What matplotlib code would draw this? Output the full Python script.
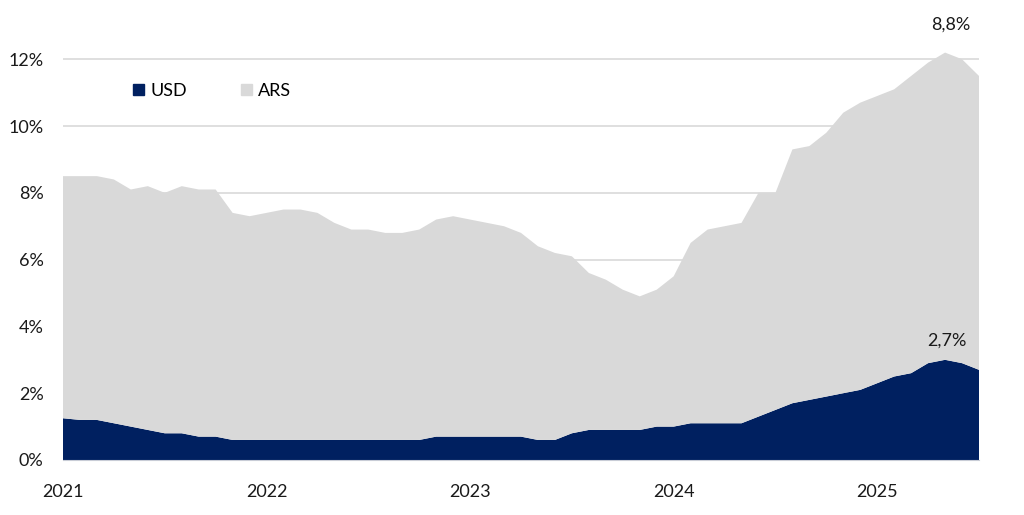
import numpy as np
import matplotlib
matplotlib.use("Agg")
import matplotlib.pyplot as plt
from matplotlib.patches import Patch

plt.rcParams['font.family'] = ['Lato', 'DejaVu Sans']

# monthly, Jan 2021 .. Jul 2025 (% of total)
years = ['2021', '2022', '2023', '2024', '2025']
usd = [1.25, 1.2, 1.2, 1.1, 1.0, 0.9, 0.8, 0.8, 0.7, 0.7,
       0.6, 0.6, 0.6, 0.6, 0.6, 0.6, 0.6, 0.6, 0.6, 0.6,
       0.6, 0.6, 0.7, 0.7, 0.7, 0.7, 0.7, 0.7, 0.6, 0.6,
       0.8, 0.9, 0.9, 0.9, 0.9, 1.0, 1.0, 1.1, 1.1, 1.1,
       1.1, 1.3, 1.5, 1.7, 1.8, 1.9, 2.0, 2.1, 2.3, 2.5,
       2.6, 2.9, 3.0, 2.9, 2.7]
ars = [7.25, 7.3, 7.3, 7.3, 7.1, 7.3, 7.2, 7.4, 7.4, 7.4,
       6.8, 6.7, 6.8, 6.9, 6.9, 6.8, 6.5, 6.3, 6.3, 6.2,
       6.2, 6.3, 6.5, 6.6, 6.5, 6.4, 6.3, 6.1, 5.8, 5.6,
       5.3, 4.7, 4.5, 4.2, 4.0, 4.1, 4.5, 5.4, 5.8, 5.9,
       6.0, 6.7, 6.5, 7.6, 7.6, 7.9, 8.4, 8.6, 8.6, 8.6,
       8.9, 9.0, 9.2, 9.1, 8.8]

usd = np.array(usd)
ars = np.array(ars)
x = np.arange(len(usd))
total = usd + ars

navy = '#002060'
grey = '#d9d9d9'
txt = '#1a1a1a'
fs = 13

fig = plt.figure(figsize=(10.24, 5.15), dpi=100)
ax = fig.add_axes([63/1024, 0.1068, (979-63)/1024, 0.843])

ax.stackplot(x, usd, ars, colors=[navy, grey], linewidth=0, zorder=2)

ax.set_xlim(0, len(x) - 1)
ax.set_ylim(0, 13)
ax.set_yticks(np.arange(0, 13, 2))
ax.set_yticklabels([f'{v}%' for v in range(0, 13, 2)], fontsize=fs, color=txt)
ax.set_xticks(np.arange(0, len(x), 12))
ax.set_xticklabels(years, fontsize=fs, color=txt)
ax.tick_params(axis='both', length=0)
ax.tick_params(axis='y', pad=14)
ax.tick_params(axis='x', pad=17)
for g in range(2, 13, 2):
    ax.axhline(g, color='#d9d9d9', lw=1.2, zorder=1)
for s in ['top', 'right', 'left']:
    ax.spines[s].set_visible(False)
ax.spines['bottom'].set_color('#c8ccd6')
ax.spines['bottom'].set_zorder(3)

# end labels
lab = lambda v: f'{v:.1f}'.replace('.', ',') + '%'
ax.annotate(lab(ars[-1]), (x[52], total[52]), xytext=(4, 20), textcoords='offset points',
            ha='center', va='center', fontsize=fs, color=txt, annotation_clip=False)
ax.annotate(lab(usd[-1]), (x[52], usd[52]), xytext=(1, 14), textcoords='offset points',
            ha='center', va='center', fontsize=fs, color=txt)

handles = [Patch(color=navy, label='USD'), Patch(color=grey, label='ARS')]
fig.legend(handles=handles, loc='center left', bbox_to_anchor=(117/1024, 1 - 91/515),
           ncol=2, frameon=False, fontsize=fs, handlelength=0.6, handleheight=0.6,
           handletextpad=0.35, columnspacing=3.0)

fig.savefig('out.png', dpi=100)
